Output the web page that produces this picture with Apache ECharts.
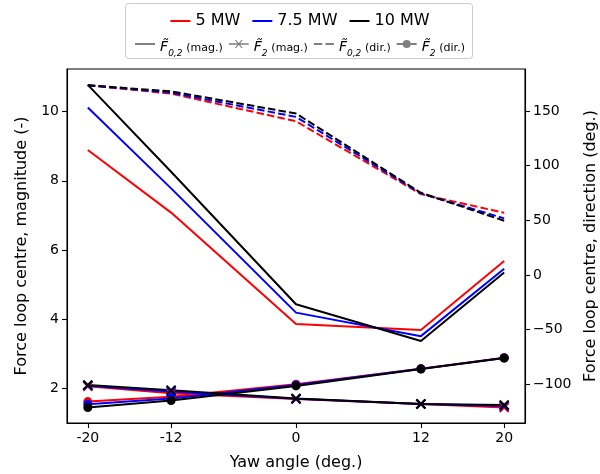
<!DOCTYPE html>
<html><head><meta charset="utf-8">
<script src="https://cdn.jsdelivr.net/npm/echarts@6/dist/echarts.min.js"></script>
<style>html,body{margin:0;padding:0;background:#fff}#c{width:600px;height:474px}</style>
</head><body><div id="c"></div>
<script>
// ---- data ----
const yaw = [-20, -12, 0, 12, 20];
const xTicks = [-20, -12, 0, 12, 20];
const leftTicks = [2, 4, 6, 8, 10];
const rightTicks = [-100, -50, 0, 50, 100, 150];
const turbines = ['5 MW', '7.5 MW', '10 MW'];
const styleNames = ['Fm02', 'Fm2', 'Fd02', 'Fd2'];

// F~_{0,2} magnitude (left axis)
const mag02_5  = [8.89, 7.08, 3.86, 3.69, 5.68];
const mag02_75 = [10.12, 7.78, 4.19, 3.51, 5.46];
const mag02_10 = [10.77, 8.26, 4.43, 3.37, 5.35];
// F~_2 magnitude (left axis)
const mag2_5  = [2.06, 1.86, 1.69, 1.55, 1.45];
const mag2_75 = [2.08, 1.91, 1.70, 1.55, 1.49];
const mag2_10 = [2.10, 1.95, 1.71, 1.55, 1.52];
// F~_{0,2} direction (right axis)
const dir02_5  = [173.5, 165.9, 140.6, 74.0, 56.9];
const dir02_75 = [173.5, 166.8, 144.6, 74.6, 51.8];
const dir02_10 = [173.5, 168.0, 147.7, 75.2, 49.6];
// F~_2 direction (right axis)
const dir2_5  = [-115.7, -111.4, -99.8, -85.6, -75.6];
const dir2_75 = [-118.1, -112.8, -100.5, -85.8, -75.8];
const dir2_10 = [-121.2, -114.8, -101.4, -86.0, -75.9];

const colors = ['#ff0000', '#0000ff', '#000000'];
const gray = '#808080';
const xPath = 'path://M0,0L10,10M0,10L10,0';
const dashPat = [7.5, 3.2];
const font = 'DejaVu Sans';

// legend icon shapes
const iconLine  = 'path://M0,4H20V6H0Z';
const iconCross = 'path://M0,4.2H20V5.8H0Z M6,1L7.4,1L14,9L12.6,9Z M12.6,1L14,1L7.4,9L6,9Z';
const iconDash  = 'path://M0,4H8V6H0Z M11,4H19V6H11Z';
const iconDot   = 'path://M0,4H20V6H0Z M14,5A4,4 0 1,1 6,5A4,4 0 1,1 14,5Z';

const sets = [
  [mag02_5, mag2_5, dir02_5, dir2_5],
  [mag02_75, mag2_75, dir02_75, dir2_75],
  [mag02_10, mag2_10, dir02_10, dir2_10]
];

function pts(arr) { return yaw.map((x, i) => [x, arr[i]]); }

const series = [];
sets.forEach((s, ti) => {
  const c = colors[ti];
  series.push({type:'line', name:'m02_'+ti, yAxisIndex:0, data:pts(s[0]), symbol:'none',
    lineStyle:{color:c, width:2}, itemStyle:{color:c}, silent:true});
  series.push({type:'line', name:'m2_'+ti, yAxisIndex:0, data:pts(s[1]), symbol:xPath, symbolSize:9,
    showAllSymbol:true, lineStyle:{color:c, width:2}, itemStyle:{color:c, borderColor:c, borderWidth:2}, silent:true});
  series.push({type:'line', name:'d02_'+ti, yAxisIndex:1, data:pts(s[2]), symbol:'none',
    lineStyle:{color:c, width:2, type:dashPat}, itemStyle:{color:c}, silent:true});
  series.push({type:'line', name:'d2_'+ti, yAxisIndex:1, data:pts(s[3]), symbol:'circle', symbolSize:9,
    showAllSymbol:true, lineStyle:{color:c, width:2}, itemStyle:{color:c}, silent:true});
});

// legend-only series
turbines.forEach((t, i) => {
  series.push({type:'line', name:t, data:[], symbol:'none', lineStyle:{color:colors[i], width:2}, itemStyle:{color:colors[i]}});
});
styleNames.forEach(n => {
  series.push({type:'line', name:n, data:[], symbol:'none', lineStyle:{color:gray, width:2}, itemStyle:{color:gray}});
});

const legendText = {
  Fm02: '{f|F\u0303}{s|0,2} {t|(mag.)}',
  Fm2:  '{f|F\u0303}{s|2} {t|(mag.)}',
  Fd02: '{f|F\u0303}{s|0,2} {t|(dir.)}',
  Fd2:  '{f|F\u0303}{s|2} {t|(dir.)}'
};
const styleIcons = [iconLine, iconCross, iconDash, iconDot];

const axisLineStyle = {color:'#000', width:1.1};

const option = {
  animation: false,
  textStyle: {fontFamily: font},
  graphic: [{
    type:'rect', left:125, top:3, z:0,
    shape:{width:347, height:55, r:3},
    style:{fill:'#fff', stroke:'#cccccc', lineWidth:1}
  }],
  legend: [{
    data: turbines.map(t => ({name:t, icon:iconLine})), top: 8, left: 'center',
    itemWidth: 20, itemHeight: 12, itemGap: 12,
    textStyle: {fontFamily: font, fontSize: 16, color:'#000'},
    selectedMode: false
  }, {
    data: styleNames.map((n, i) => ({name:n, icon:styleIcons[i]})), top: 33, left: 'center',
    itemWidth: 20, itemHeight: 10, itemGap: 6,
    selectedMode: false,
    formatter: n => legendText[n],
    textStyle: {fontFamily: font, color:'#000',
      rich: {
        f: {fontFamily: font, fontStyle:'italic', fontSize: 14, lineHeight: 20, verticalAlign:'bottom'},
        s: {fontFamily: font, fontStyle:'italic', fontSize: 9, lineHeight: 20, verticalAlign:'bottom', padding:[0,0,-4,0]},
        t: {fontFamily: font, fontSize: 11, lineHeight: 20, verticalAlign:'bottom'}
      }}
  }],
  grid: {left: 67, right: 75, top: 69, bottom: 51, show: true, borderColor:'#000', borderWidth: 1.1,
    backgroundColor:'transparent', containLabel:false, outerBoundsMode:'none'},
  xAxis: {
    type:'value', min:-22, max:22,
    name:'Yaw angle (deg.)', nameLocation:'middle', nameGap: 32,
    nameTextStyle:{fontFamily: font, fontSize:16, color:'#000'},
    axisLine:{show:true, onZero:false, lineStyle:axisLineStyle},
    axisTick:{show:true, customValues:xTicks, length:5, lineStyle:axisLineStyle},
    axisLabel:{customValues:xTicks, fontFamily: font, fontSize:14, color:'#000', margin:8,
      formatter: v => String(v)},
    splitLine:{show:false}
  },
  yAxis: [{
    type:'value', min:1.0, max:11.23, position:'left',
    name:'Force loop centre, magnitude (-)', nameLocation:'middle', nameGap: 37, nameRotate: 90,
    nameTextStyle:{fontFamily: font, fontSize:16, color:'#000'},
    axisLine:{show:true, onZero:false, lineStyle:axisLineStyle},
    axisTick:{show:true, customValues:leftTicks, length:5, lineStyle:axisLineStyle},
    axisLabel:{customValues:leftTicks, fontFamily: font, fontSize:14, color:'#000', margin:8},
    splitLine:{show:false}
  }, {
    type:'value', min:-135.3, max:188.4, position:'right',
    name:'Force loop centre, direction (deg.)', nameLocation:'middle', nameGap: 56, nameRotate: 90,
    nameTextStyle:{fontFamily: font, fontSize:16, color:'#000'},
    axisLine:{show:true, onZero:false, lineStyle:axisLineStyle},
    axisTick:{show:true, customValues:rightTicks, length:5, lineStyle:axisLineStyle},
    axisLabel:{customValues:rightTicks, fontFamily: font, fontSize:14, color:'#000', margin:8,
      formatter: v => (v < 0 ? '\u2212' + Math.abs(v) : String(v))},
    splitLine:{show:false}
  }],
  series: series
};

const chart = echarts.init(document.getElementById('c'), null, {renderer:'canvas'});
chart.setOption(option);
</script>
</body></html>
